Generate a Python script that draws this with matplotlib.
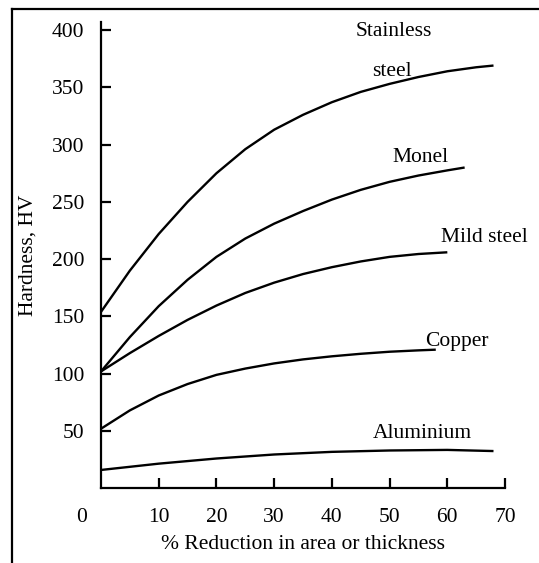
import matplotlib
matplotlib.use("Agg")
import matplotlib.pyplot as plt
from matplotlib.lines import Line2D

plt.rcParams['font.family'] = ['Liberation Serif', 'DejaVu Serif']
plt.rcParams['font.size'] = 15.5

# values (x = % reduction, y = hardness HV)
stainless_x = [0, 5, 10, 15, 20, 25, 30, 35, 40, 45, 50, 55, 60, 65, 68]
stainless_y = [154, 190, 222, 250, 275, 296, 313, 326, 337, 346, 353, 359, 364, 367.5, 369]
monel_x = [0, 5, 10, 15, 20, 25, 30, 35, 40, 45, 50, 55, 60, 63]
monel_y = [102, 132, 159, 182, 202, 218, 231, 242, 252, 260.5, 267.5, 273, 277.5, 280]
mild_x = [0, 5, 10, 15, 20, 25, 30, 35, 40, 45, 50, 55, 60]
mild_y = [102, 118, 133, 147, 159.5, 170.5, 179.5, 187, 193, 198, 202, 204.5, 206]
copper_x = [0, 5, 10, 15, 20, 25, 30, 35, 40, 45, 50, 55, 58]
copper_y = [52, 68, 81, 91, 99, 104.5, 109, 112.5, 115.2, 117.4, 119.2, 120.4, 121]
alu_x = [0, 10, 20, 30, 40, 50, 60, 68]
alu_y = [16, 21.5, 26, 29.5, 31.8, 33, 33.5, 32.5]

x_ticks = [10, 20, 30, 40, 50, 60, 70]
y_ticks = [50, 100, 150, 200, 250, 300, 350, 400]

fig = plt.figure(figsize=(5.39, 5.63), dpi=100)
ax = fig.add_axes([0.1874, 0.1327, 0.7496, 0.8282])

for xs, ys in [(stainless_x, stainless_y), (monel_x, monel_y), (mild_x, mild_y),
               (copper_x, copper_y), (alu_x, alu_y)]:
    ax.plot(xs, ys, color='black', lw=1.7, solid_capstyle='butt',
            solid_joinstyle='round')

ax.set_xlim(0, 70)
ax.set_ylim(0, 407)
ax.spines['top'].set_visible(False)
ax.spines['right'].set_visible(False)
ax.spines['left'].set_linewidth(1.6)
ax.spines['bottom'].set_linewidth(1.6)
ax.set_xticks(x_ticks)
ax.set_yticks(y_ticks)
ax.tick_params(direction='in', length=7, width=1.6, pad=12)
ax.tick_params(axis='x', pad=14)
ax.annotate('0', xy=(0, 0), xytext=(-14, -14), textcoords='offset points',
            ha='center', va='top')

ax.set_xlabel('% Reduction in area or thickness', labelpad=6)
ax.set_ylabel('Hardness, HV', labelpad=10)

# curve labels
ax.text(50.8, 399, 'Stainless', ha='center', va='center')
ax.text(50.4, 364, 'steel', ha='center', va='center')
ax.text(55.4, 289, 'Monel', ha='center', va='center')
ax.text(66.4, 219, 'Mild steel', ha='center', va='center')
ax.text(61.7, 128, 'Copper', ha='center', va='center')
ax.text(55.6, 48, 'Aluminium', ha='center', va='center')

# outer frame (only top and left edges visible)
fig.add_artist(Line2D([0.0223, 0.0223], [0, 0.984], color='black', lw=1.6))
fig.add_artist(Line2D([0.0223, 1.0], [0.984, 0.984], color='black', lw=1.6))

fig.savefig('out.png', dpi=100)
